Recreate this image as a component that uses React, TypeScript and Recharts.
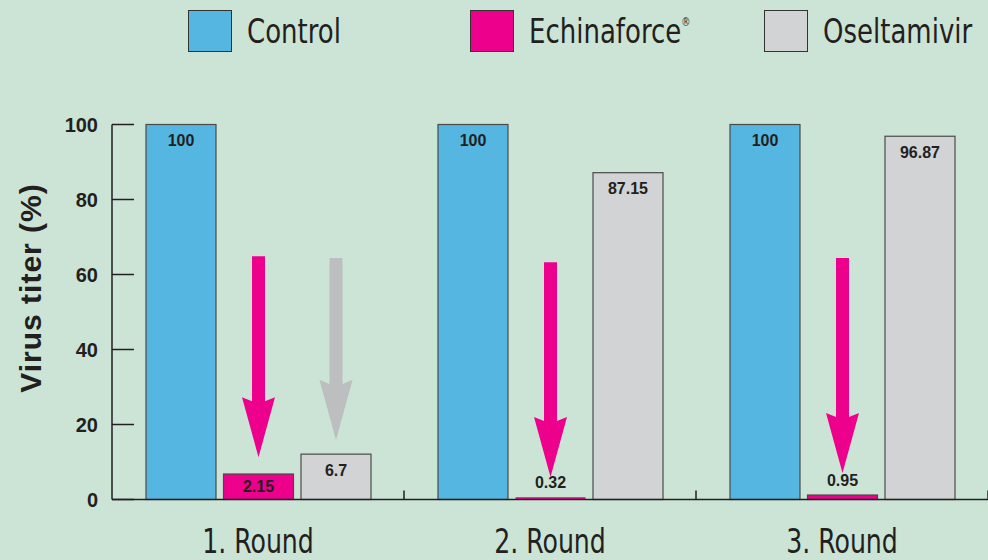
import { BarChart, Bar, XAxis, YAxis, Legend, LabelList } from 'recharts';

const rounds = ['1. Round', '2. Round', '3. Round'];
// bar heights as drawn
const controlValues = [100, 100, 100];
const echinaforceValues = [6.8, 0.6, 1.2];
const oseltamivirValues = [12.1, 87.15, 96.87];
// printed numbers
const controlLabels = ['100', '100', '100'];
const echinaforceLabels = ['2.15', '0.32', '0.95'];
const oseltamivirLabels = ['6.7', '87.15', '96.87'];
// arrows: start and tip in axis units
const echinaforceArrowFrom = [64.9, 63.3, 64.4];
const echinaforceArrowTo = [11.3, 6.0, 7.1];
const oseltamivirArrowFrom = [64.4, null, null];
const oseltamivirArrowTo = [15.9, null, null];
const yTicks = [0, 20, 40, 60, 80, 100];

const data = rounds.map((round, i) => ({
    round,
    control: controlValues[i],
    echinaforce: echinaforceValues[i],
    oseltamivir: oseltamivirValues[i],
}));

const BG = '#cce4d6';
const INK = '#231f20';
const NARROW = "'Liberation Sans Narrow', 'DejaVu Sans Condensed', 'Liberation Sans', sans-serif";
const SANS = "'Liberation Sans', Arial, sans-serif";
const SQUEEZE = 0.85;
const W = 988;
const H = 560;
const AXIS_W = 112;
const BAND = (W - AXIS_W) / rounds.length;

const makeBarShape =
    (fill: string, key: string, arrowFrom?: (number | null)[], arrowTo?: (number | null)[], arrowColor?: string) =>
    (props: any) => {
        const { x, y, width, height, index, background, payload } = props;
        const tiny = height < 4;
        let arrow = null;
        const f = arrowFrom ? arrowFrom[index] : null;
        const t = arrowTo ? arrowTo[index] : null;
        if (f != null && t != null) {
            const toPx = (v: number) => {
                if (background && background.height) {
                    return background.y + background.height * (1 - v / 100);
                }
                const base = y + height;
                return base - (height / payload[key]) * v;
            };
            const cx = x + width / 2;
            const top = toPx(f);
            const tip = toPx(t);
            const hb = tip - 60;
            const pts = [
                [cx - 6.5, top],
                [cx + 6.5, top],
                [cx + 6.5, hb + 4],
                [cx + 16.5, hb],
                [cx, tip],
                [cx - 16.5, hb],
                [cx - 6.5, hb + 4],
            ]
                .map((p) => p.join(','))
                .join(' ');
            arrow = <polygon points={pts} fill={arrowColor} />;
        }
        return (
            <g>
                <rect
                    x={x}
                    y={y}
                    width={width}
                    height={Math.max(height, 0)}
                    fill={fill}
                    stroke={tiny ? 'none' : '#4a4a4a'}
                    strokeWidth={1.2}
                />
                {arrow}
            </g>
        );
    };

const makeLabel = (labels: string[]) => (props: any) => {
    const { x, y, width, height, index } = props;
    const cx = Number(x) + Number(width) / 2;
    const h = Number(height);
    let cy;
    if (h >= 34) cy = Number(y) + 16;
    else if (h >= 20) cy = Number(y) + h / 2;
    else cy = Number(y) - 15;
    return (
        <text
            x={cx}
            y={cy}
            textAnchor="middle"
            dominantBaseline="central"
            fontFamily={SANS}
            fontWeight="bold"
            fontSize={16}
            fill={INK}
        >
            {labels[index]}
        </text>
    );
};

const YTick = (props: any) => {
    const { x, y, payload } = props;
    return (
        <g>
            <line x1={x + 14} x2={x + 36} y1={y} y2={y} stroke={INK} strokeWidth={1.5} />
            <text
                x={x}
                y={y}
                textAnchor="end"
                dominantBaseline="central"
                fontFamily={SANS}
                fontWeight="bold"
                fontSize={20}
                fill={INK}
            >
                {payload.value}
            </text>
        </g>
    );
};

const XTick = (props: any) => {
    const { x, y, payload } = props;
    return (
        <g>
            <line x1={x + BAND / 2} x2={x + BAND / 2} y1={y} y2={y - 9} stroke={INK} strokeWidth={1.5} />
            <text
                transform={`translate(${x}, ${y + 53}) scale(${SQUEEZE}, 1)`}
                textAnchor="middle"
                fontFamily={NARROW}
                fontSize={33}
                fill={INK}
            >
                {payload.value}
            </text>
        </g>
    );
};

const YLabel = (props: any) => {
    const vb = props.viewBox || { x: 0, y: 0, height: 0 };
    const cx = vb.x + 30;
    const cy = vb.y + vb.height / 2 - 24;
    return (
        <text
            x={cx}
            y={cy}
            transform={`rotate(-90, ${cx}, ${cy})`}
            textAnchor="middle"
            dominantBaseline="central"
            fontFamily={SANS}
            fontWeight="bold"
            fontSize={30}
            letterSpacing={1}
            fill={INK}
        >
            Virus titer (%)
        </text>
    );
};

const itemWidths = [282, 294, 220];

const LegendContent = ({ payload }: any) => (
    <div style={{ display: 'flex', alignItems: 'center', paddingLeft: 188, paddingTop: 10 }}>
        {(payload || []).map((entry: any, i: number) => {
            const parts = String(entry.value).split('®');
            return (
                <div key={i} style={{ width: itemWidths[i], flexShrink: 0, display: 'flex', alignItems: 'center' }}>
                    <div
                        style={{
                            width: 44,
                            height: 42,
                            flexShrink: 0,
                            boxSizing: 'border-box',
                            background: entry.color,
                            border: '1.5px solid #333',
                        }}
                    />
                    <span
                        style={{
                            display: 'inline-block',
                            marginLeft: 15,
                            fontFamily: NARROW,
                            fontSize: 34,
                            color: INK,
                            lineHeight: '42px',
                            whiteSpace: 'nowrap',
                            transform: `scaleX(${SQUEEZE})`,
                            transformOrigin: 'left center',
                        }}
                    >
                        {parts[0]}
                        {parts.length > 1 && <sup style={{ fontSize: 12, verticalAlign: 'top', lineHeight: '24px' }}>®</sup>}
                    </span>
                </div>
            );
        })}
    </div>
);

export default function App() {
    return (
        <div style={{ position: 'absolute', left: 0, top: 0, width: W, height: H, background: BG }}>
            <BarChart
                width={W}
                height={H}
                data={data}
                margin={{ top: 64.5, right: 0, bottom: 0, left: 0 }}
                barSize={70}
                barGap={7.5}
            >
                <Legend
                    verticalAlign="top"
                    align="left"
                    content={<LegendContent />}
                    wrapperStyle={{ top: 0, left: 0, width: W, height: 60 }}
                />
                <XAxis
                    dataKey="round"
                    height={60.5}
                    axisLine={{ stroke: INK, strokeWidth: 1.5 }}
                    tickLine={false}
                    tickSize={0}
                    tickMargin={0}
                    tick={<XTick />}
                    interval={0}
                />
                <YAxis
                    width={AXIS_W}
                    domain={[0, 100]}
                    ticks={yTicks}
                    axisLine={{ stroke: INK, strokeWidth: 1.5 }}
                    tickLine={false}
                    tickSize={0}
                    tickMargin={14}
                    tick={<YTick />}
                    label={<YLabel />}
                />
                <Bar dataKey="control" name="Control" fill="#55b7e1" isAnimationActive={false} shape={makeBarShape('#55b7e1', 'control')}>
                    <LabelList dataKey="control" content={makeLabel(controlLabels)} />
                </Bar>
                <Bar
                    dataKey="echinaforce"
                    name="Echinaforce®"
                    fill="#ec008c"
                    isAnimationActive={false}
                    shape={makeBarShape('#ec008c', 'echinaforce', echinaforceArrowFrom, echinaforceArrowTo, '#ec008c')}
                >
                    <LabelList dataKey="echinaforce" content={makeLabel(echinaforceLabels)} />
                </Bar>
                <Bar
                    dataKey="oseltamivir"
                    name="Oseltamivir"
                    fill="#d1d3d4"
                    isAnimationActive={false}
                    shape={makeBarShape('#d1d3d4', 'oseltamivir', oseltamivirArrowFrom, oseltamivirArrowTo, '#bcbec0')}
                >
                    <LabelList dataKey="oseltamivir" content={makeLabel(oseltamivirLabels)} />
                </Bar>
            </BarChart>
        </div>
    );
}
